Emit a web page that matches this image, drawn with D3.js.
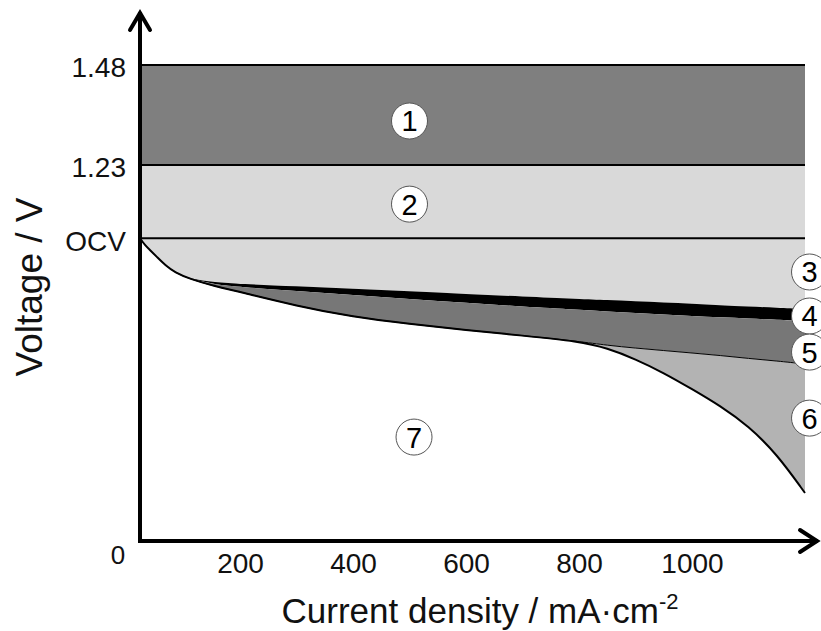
<!DOCTYPE html>
<html>
<head>
<meta charset="utf-8">
<script src="https://cdn.jsdelivr.net/npm/d3@7"></script>
<style>
  html, body { margin: 0; padding: 0; background: #fff; }
  svg { display: block; font-family: "Liberation Sans", Arial, sans-serif; }
</style>
</head>
<body>
<div id="chart"></div>
<script>
// Polarization curve schematic: voltage losses vs current density

// current density samples (mA/cm2)
const currents = [0, 10, 20, 35, 50, 70, 100, 150, 200, 300, 400, 500, 600, 700, 800, 850, 900, 950, 1000, 1050, 1100, 1150, 1200];
// top of black band (bottom of region 3)
const curveA = [0.99, 0.968, 0.952, 0.927, 0.903, 0.878, 0.857, 0.847, 0.841, 0.833, 0.825, 0.817, 0.808, 0.800, 0.792, 0.788, 0.784, 0.780, 0.776, 0.771, 0.767, 0.763, 0.759];
// bottom of black band
const curveB = [0.99, 0.968, 0.952, 0.927, 0.903, 0.878, 0.857, 0.839, 0.831, 0.818, 0.805, 0.792, 0.779, 0.767, 0.757, 0.751, 0.746, 0.741, 0.736, 0.732, 0.728, 0.724, 0.720];
// boundary between region 5 and 6
const curveC = [0.99, 0.968, 0.952, 0.927, 0.903, 0.878, 0.857, 0.833, 0.815, 0.769, 0.733, 0.710, 0.690, 0.672, 0.653, 0.640, 0.631, 0.623, 0.615, 0.607, 0.597, 0.589, 0.579];
// measured polarization curve
const curveD = [0.99, 0.968, 0.952, 0.927, 0.903, 0.878, 0.857, 0.833, 0.815, 0.769, 0.733, 0.710, 0.690, 0.672, 0.653, 0.631, 0.595, 0.550, 0.497, 0.442, 0.376, 0.285, 0.157];

// voltage levels
const V_HHV = 1.48, V_REV = 1.23, V_OCV = 0.99;
const yTicks = [0, V_OCV, V_REV, V_HHV];
const yTickLabels = ["0", "OCV", "1.23", "1.48"];
const xTicks = [200, 400, 600, 800, 1000];

// region markers: [label, current, voltage]
const markers = [
    ["1", 500, 1.34],
    ["2", 500, 1.102],
    ["3", 1208, 0.88],
    ["4", 1208, 0.736],
    ["5", 1208, 0.618],
    ["6", 1208, 0.402],
    ["7", 508, 0.34]
];

const W = 821, H = 631;
const svg = d3.select("#chart").append("svg")
    .attr("width", W).attr("height", H);

const x = d3.scaleLinear().domain([0, 200, 1200]).range([140, 240, 805]);
const y = d3.scaleLinear().domain([0, V_REV, V_HHV]).range([541, 165, 65]);

const xMin = 0, xMax = 1200;
const pts = currents.map((c, i) => ({ c: c, a: curveA[i], b: curveB[i], cc: curveC[i], d: curveD[i] }));

// flat bands
const bands = [
    { top: V_HHV, bottom: V_REV, fill: "#7f7f7f" },
    { top: V_REV, bottom: V_OCV, fill: "#d9d9d9" }
];
svg.selectAll(".band").data(bands).enter().append("rect")
    .attr("x", x(xMin)).attr("width", x(xMax) - x(xMin))
    .attr("y", d => y(d.top)).attr("height", d => y(d.bottom) - y(d.top))
    .attr("fill", d => d.fill);

// stacked loss regions under OCV
const areaOf = (top, bottom) => d3.area()
    .curve(d3.curveBasis)
    .x(d => x(d.c))
    .y0(bottom)
    .y1(top);

svg.append("path").datum(pts)
    .attr("d", areaOf(() => y(V_OCV), d => y(d.a)))
    .attr("fill", "#d9d9d9");
svg.append("path").datum(pts)
    .attr("d", areaOf(d => y(d.a), d => y(d.b)))
    .attr("fill", "#000");
svg.append("path").datum(pts)
    .attr("d", areaOf(d => y(d.b), d => y(d.cc)))
    .attr("fill", "#777777");
svg.append("path").datum(pts)
    .attr("d", areaOf(d => y(d.cc), d => y(d.d)))
    .attr("fill", "#b3b3b3");

// horizontal level lines
svg.selectAll(".level").data([V_HHV, V_REV, V_OCV]).enter().append("line")
    .attr("x1", x(xMin)).attr("x2", x(xMax))
    .attr("y1", d => y(d)).attr("y2", d => y(d))
    .attr("stroke", "#000").attr("stroke-width", 2);

const line = key => d3.line().curve(d3.curveBasis).x(d => x(d.c)).y(d => y(d[key]));
svg.append("path").datum(pts).attr("d", line("cc"))
    .attr("fill", "none").attr("stroke", "#000").attr("stroke-width", 1);
svg.append("path").datum(pts).attr("d", line("d"))
    .attr("fill", "none").attr("stroke", "#000").attr("stroke-width", 2);

// axes
const xAxis = svg.append("g")
    .attr("transform", `translate(0,${y(0)})`)
    .call(d3.axisBottom(x).tickValues(xTicks).tickSize(0).tickPadding(12).tickFormat(d3.format("d")));
xAxis.select(".domain").remove();
xAxis.selectAll("text").attr("font-size", 28).attr("fill", "#111").attr("font-family", null);

const yAxis = svg.append("g")
    .attr("transform", `translate(${x(0)},0)`)
    .call(d3.axisLeft(y).tickValues(yTicks).tickSize(0).tickPadding(14)
        .tickFormat((d, i) => yTickLabels[i]));
yAxis.select(".domain").remove();
yAxis.selectAll("text").attr("font-size", 28).attr("fill", "#111").attr("font-family", null)
    .attr("dy", "0.42em");
// origin label sits below-left of the corner
yAxis.selectAll(".tick").filter(d => d === 0).select("text")
    .attr("x", -22).attr("dy", "0.85em").attr("text-anchor", "middle").attr("font-size", 26);

// axis lines with open arrowheads
const ax = svg.append("g").attr("stroke", "#000").attr("fill", "none")
    .attr("stroke-width", 4).attr("stroke-linecap", "square");
ax.append("line").attr("x1", x(0)).attr("x2", x(0)).attr("y1", y(0)).attr("y2", 14);
ax.append("line").attr("x1", x(0)).attr("x2", 816).attr("y1", y(0)).attr("y2", y(0));
ax.append("path").attr("d", `M${x(0) - 10},30 L${x(0)},13 L${x(0) + 10},30`)
    .attr("stroke-linecap", "round").attr("stroke-linejoin", "miter");
ax.append("path").attr("d", `M800,${y(0) - 11} L817,${y(0)} L800,${y(0) + 11}`)
    .attr("stroke-linecap", "round").attr("stroke-linejoin", "miter");

// axis titles
const xt = svg.append("text")
    .attr("x", 480).attr("y", 623)
    .attr("text-anchor", "middle")
    .attr("font-size", 35).attr("fill", "#111");
xt.append("tspan").text("Current density / mA\u00B7cm");
xt.append("tspan").attr("font-size", 22).attr("dy", -14).text("-2");

svg.append("text")
    .attr("transform", `translate(42,287) rotate(-90)`)
    .attr("text-anchor", "middle")
    .attr("font-size", 37).attr("fill", "#111")
    .text("Voltage / V");

// region markers
const mk = svg.selectAll(".marker").data(markers).enter().append("g")
    .attr("transform", d => `translate(${x(d[1])},${y(d[2])})`);
mk.append("circle").attr("r", 18)
    .attr("fill", "#fff").attr("stroke", "#555").attr("stroke-width", 1);
mk.append("text").attr("text-anchor", "middle").attr("dy", "0.36em")
    .attr("font-size", 29).attr("fill", "#000")
    .text(d => d[0]);
</script>
</body>
</html>
